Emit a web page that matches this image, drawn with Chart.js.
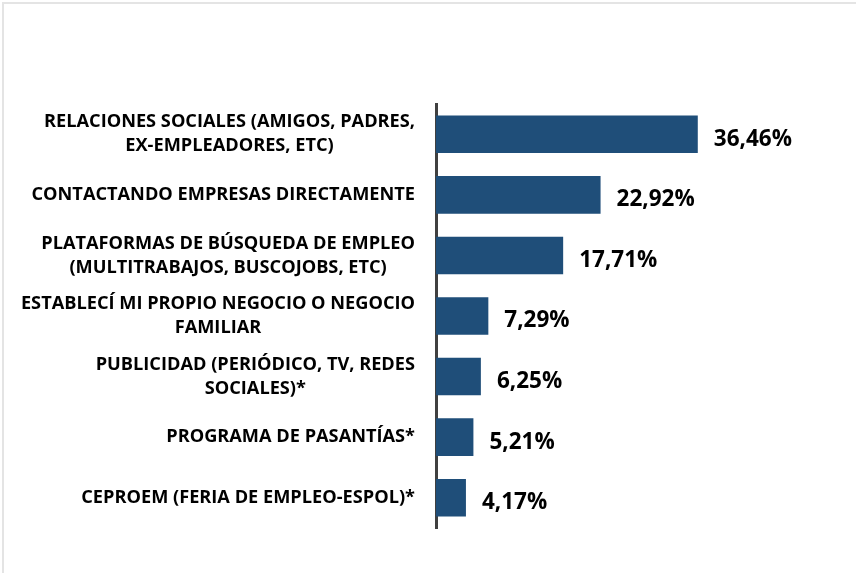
<!DOCTYPE html>
<html>
<head>
<meta charset="utf-8">
<script src="https://cdn.jsdelivr.net/npm/chart.js@4/dist/chart.umd.min.js"></script>
<style>
  html, body { margin: 0; padding: 0; background: #fff; overflow: hidden; }
  #frame {
    position: absolute;
    left: 2px;
    top: 2px;
    width: 900px;
    height: 600px;
    border-left: 2px solid #e4e4e4;
    border-top: 2px solid #e4e4e4;
  }
  #chart { position: absolute; left: 0; top: 0; }
</style>
</head>
<body>
<div id="frame"></div>
<canvas id="chart" width="856" height="573"></canvas>
<script>
// categorias (cada elemento es una lista de lineas)
const categories = [
  ["RELACIONES SOCIALES (AMIGOS, PADRES,", "EX-EMPLEADORES, ETC)"],
  ["CONTACTANDO EMPRESAS DIRECTAMENTE"],
  ["PLATAFORMAS DE BÚSQUEDA DE EMPLEO", "(MULTITRABAJOS, BUSCOJOBS, ETC)"],
  ["ESTABLECÍ MI PROPIO NEGOCIO O NEGOCIO", "FAMILIAR"],
  ["PUBLICIDAD (PERIÓDICO, TV, REDES", "SOCIALES)*"],
  ["PROGRAMA DE PASANTÍAS*"],
  ["CEPROEM (FERIA DE EMPLEO-ESPOL)*"]
];
const percentages = [36.46, 22.92, 17.71, 7.29, 6.25, 5.21, 4.17];

const barColor = "#1F4E79";
const labelFont = "bold 18.2px 'Open Sans'";
const valueFont = "bold 22.5px 'Open Sans'";

// Dibuja etiquetas de categoria (centradas entre si) y valores
const labelsPlugin = {
  id: "labelsPlugin",
  afterDatasetsDraw(chart) {
    const ctx = chart.ctx;
    const yScale = chart.scales.y;
    const area = chart.chartArea;
    const meta = chart.getDatasetMeta(0);

    ctx.save();
    ctx.fillStyle = "#000";
    ctx.textBaseline = "middle";

    // categorias
    ctx.font = labelFont;
    ctx.textAlign = "center";
    const lineH = 24;
    categories.forEach((lines, i) => {
      const yc = yScale.getPixelForTick(i);
      let maxW = 0;
      lines.forEach((l) => { maxW = Math.max(maxW, ctx.measureText(l).width); });
      const right = area.left - 21;
      const cx = right - maxW / 2;
      const y0 = yc - ((lines.length - 1) * lineH) / 2;
      lines.forEach((l, k) => ctx.fillText(l, cx, y0 + k * lineH));
    });

    // valores
    ctx.font = valueFont;
    ctx.textAlign = "left";
    meta.data.forEach((bar, i) => {
      const txt = percentages[i].toFixed(2).replace(".", ",") + "%";
      ctx.fillText(txt, bar.x + 16, bar.y + 5);
    });
    ctx.restore();
  }
};

const ctx = document.getElementById("chart").getContext("2d");
new Chart(ctx, {
  type: "bar",
  data: {
    labels: categories,
    datasets: [
      {
        data: percentages,
        backgroundColor: barColor,
        borderWidth: 0,
        barPercentage: 0.62,
        categoryPercentage: 1.0
      }
    ]
  },
  options: {
    indexAxis: "y",
    responsive: false,
    animation: false,
    devicePixelRatio: 1,
    layout: {
      padding: { top: 104, bottom: 45, left: 0, right: 61 }
    },
    plugins: {
      legend: { display: false },
      tooltip: { enabled: false }
    },
    scales: {
      x: {
        display: false,
        min: 0,
        max: 50
      },
      y: {
        ticks: { display: false },
        grid: { display: false, drawTicks: false },
        border: { display: true, color: "#404040", width: 3 },
        afterFit(scale) {
          scale.width = 436;
        }
      }
    }
  },
  plugins: [labelsPlugin]
});
</script>
</body>
</html>
